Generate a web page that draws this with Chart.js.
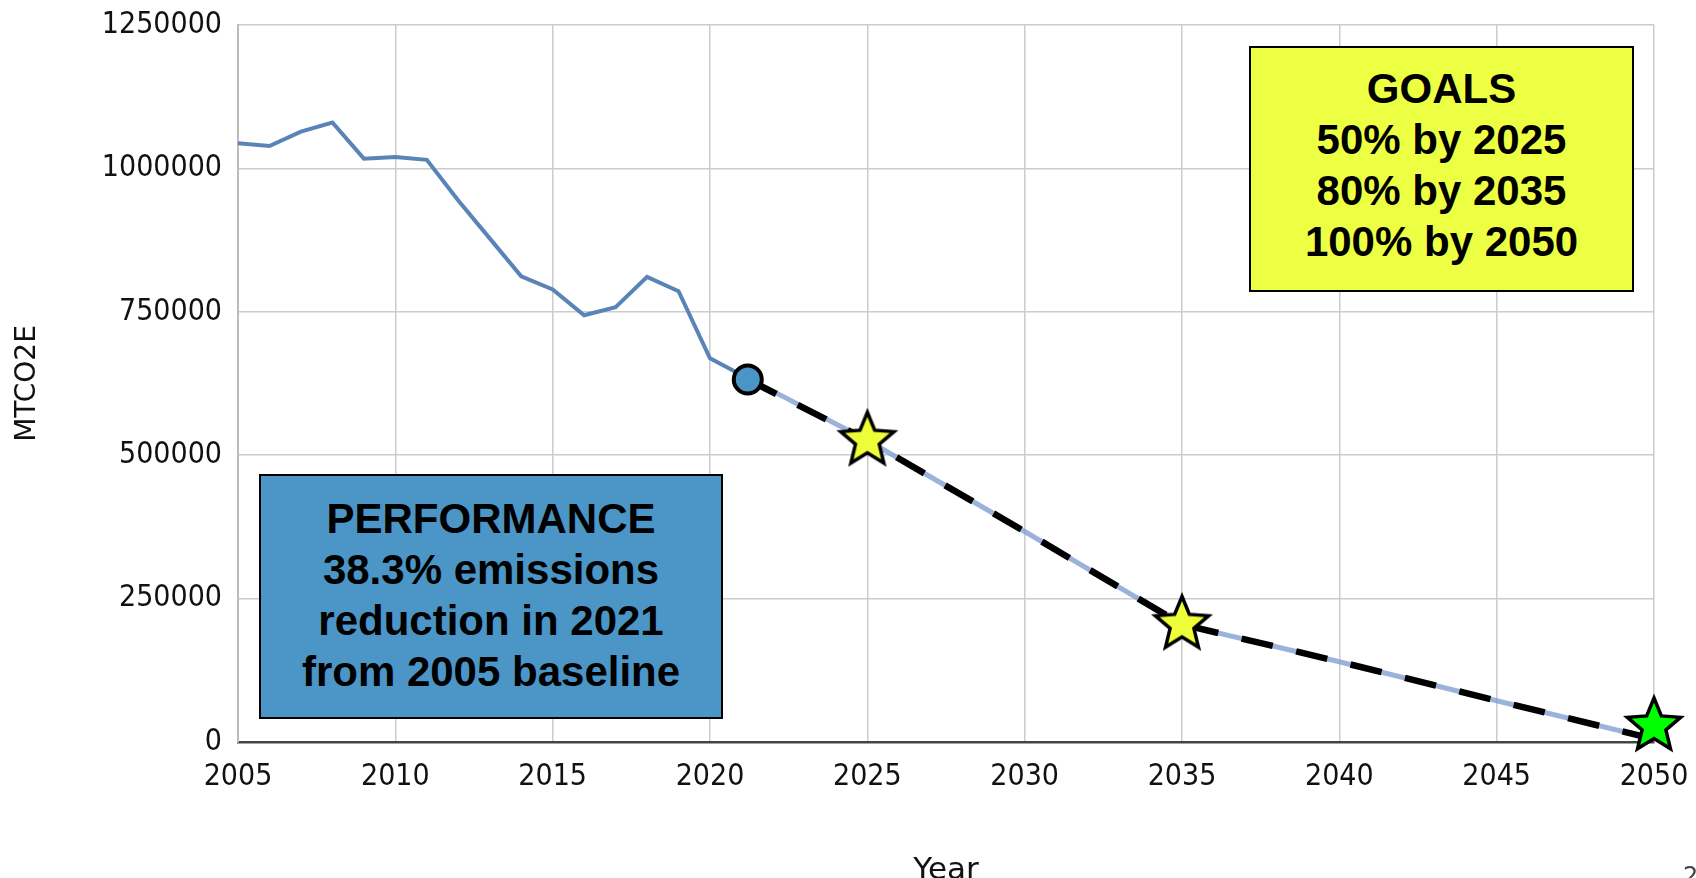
<!DOCTYPE html>
<html>
<head>
<meta charset="utf-8">
<title>MTCO2E emissions and goals</title>
<script src="https://cdn.jsdelivr.net/npm/chart.js@4/dist/chart.umd.min.js"></script>
<style>
  html, body { margin: 0; padding: 0; background: #fff; }
  #wrap { position: relative; width: 1696px; height: 878px; overflow: hidden; }
  .box {
    position: absolute; box-sizing: border-box; border: 2px solid #000;
    font-family: "Liberation Sans", Arial, sans-serif; font-weight: bold;
    font-size: 42px; line-height: 51px; text-align: center; color: #000;
  }
  #goals { left: 1249px; top: 46px; width: 385px; height: 246px; background: #edff42; padding-top: 15px; }
  #perf { left: 259px; top: 474px; width: 464px; height: 245px; background: #4b96c7; padding-top: 17px; }
  #page { position: absolute; left: 1683px; top: 862px; font: 24px "DejaVu Sans", sans-serif; color: #444; }
</style>
</head>
<body>
<div id="wrap">
  <canvas id="emissions" width="1696" height="878"></canvas>
  <div class="box" id="goals">GOALS<br>50% by 2025<br>80% by 2035<br>100% by 2050</div>
  <div class="box" id="perf">PERFORMANCE<br>38.3% emissions<br>reduction in 2021<br>from 2005 baseline</div>
  <div id="page">2</div>
</div>
<script>
const histYears = [2005, 2006, 2007, 2008, 2009, 2010, 2011, 2012, 2013, 2014, 2015, 2016, 2017, 2018, 2019, 2020, 2021]
const histValues = [1044000, 1039000, 1064000, 1080000, 1017000, 1020000, 1015000, 944000, 878000, 812000, 789000, 744000, 758000, 811000, 786000, 669000, 640000]

// projected path toward the goals
const projYears = [2021, 2025, 2030, 2035, 2040, 2045, 2050]
const projValues = [640000, 526000, 367000, 205000, 140000, 72000, 5000]

// dashed goal path, starts at the 2021 performance marker
const pathYears = [2021.2, 2025, 2030, 2035, 2040, 2045, 2050]
const pathValues = [632000, 526000, 367000, 205000, 140000, 72000, 5000]

const perfYears = [2021.2]
const perfValues = [632000]

const goalYears = [2025, 2035, 2050]
const goalValues = [526000, 205000, 28000]
const goalColors = ['#eeff3a', '#eeff3a', '#00ff00']

const yTicks = [0, 250000, 500000, 750000, 1000000, 1250000]

function toPoints(xs, ys) {
    return xs.map((x, i) => ({x: x, y: ys[i]}))
}

function starImage(fill) {
    const R = 28, r = 12.5, lw = 3.5
    const size = 2 * (R + 7)
    const c = document.createElement('canvas')
    c.width = size
    c.height = size
    const g = c.getContext('2d')
    g.translate(size / 2, size / 2)
    g.beginPath()
    for (let i = 0; i < 10; i++) {
        const rad = i % 2 ? r : R
        const a = -Math.PI / 2 + i * Math.PI / 5
        g.lineTo(rad * Math.cos(a), rad * Math.sin(a))
    }
    g.closePath()
    g.fillStyle = fill
    g.fill()
    g.lineWidth = lw
    g.lineJoin = 'miter'
    g.strokeStyle = '#000'
    g.stroke()
    return c
}

const tickFont = {family: '"DejaVu Sans Condensed", "Noto Sans", "DejaVu Sans"', size: 30, lineHeight: 1.2}

new Chart(document.getElementById('emissions').getContext('2d'), {
    type: 'line',
    data: {
        datasets: [{
            label: 'Goals',
            data: toPoints(goalYears, goalValues),
            showLine: false,
            pointStyle: goalColors.map(starImage),
            pointRadius: 28,
            clip: false
        }, {
            label: '2021 performance',
            data: toPoints(perfYears, perfValues),
            showLine: false,
            pointStyle: 'circle',
            pointRadius: 14,
            pointBorderWidth: 4,
            pointBackgroundColor: '#4a95c5',
            pointBorderColor: '#000',
            clip: false
        }, {
            label: 'Goal path',
            data: toPoints(pathYears, pathValues),
            borderColor: '#000',
            borderWidth: 6.5,
            borderDash: [32, 24],
            borderCapStyle: 'butt',
            pointRadius: 0,
            tension: 0
        }, {
            label: 'Projection',
            data: toPoints(projYears, projValues),
            borderColor: 'rgba(130,160,210,0.8)',
            borderWidth: 5,
            pointRadius: 0,
            tension: 0
        }, {
            label: 'MTCO2E',
            data: toPoints(histYears, histValues),
            borderColor: '#5a83b8',
            borderWidth: 4,
            pointRadius: 0,
            tension: 0
        }]
    },
    options: {
        responsive: false,
        animation: false,
        layout: {autoPadding: false, padding: {left: 14, right: 42, top: 25, bottom: 0}},
        plugins: {
            legend: {display: false},
            tooltip: {enabled: false}
        },
        scales: {
            x: {
                type: 'linear',
                min: 2005,
                max: 2050,
                afterFit: s => { s.height = 136; s.paddingLeft = 0; s.paddingRight = 0 },
                ticks: {stepSize: 5, padding: 17, color: '#111', font: tickFont, callback: v => String(v), maxRotation: 0},
                grid: {color: '#cccccc', lineWidth: 1.5, drawTicks: false},
                border: {color: '#444', width: 2.5},
                title: {display: true, text: 'Year', color: '#111', font: {family: 'DejaVu Sans', size: 31, lineHeight: 1}, padding: {top: 0, bottom: -8}}
            },
            y: {
                min: 0,
                max: 1250000,
                afterBuildTicks: axis => { axis.ticks = yTicks.map(v => ({value: v})) },
                afterFit: s => { s.width = 224; s.paddingTop = 0; s.paddingBottom = 0 },
                ticks: {padding: 16, color: '#111', font: tickFont, callback: v => String(v)},
                grid: {color: '#cccccc', lineWidth: 1.5, drawTicks: false},
                border: {color: '#bbbbbb', width: 2},
                title: {display: true, text: 'MTCO2E', color: '#111', font: {family: 'DejaVu Sans', size: 28, lineHeight: 1}, padding: {top: 0, bottom: 0}}
            }
        }
    }
});
</script>
</body>
</html>
